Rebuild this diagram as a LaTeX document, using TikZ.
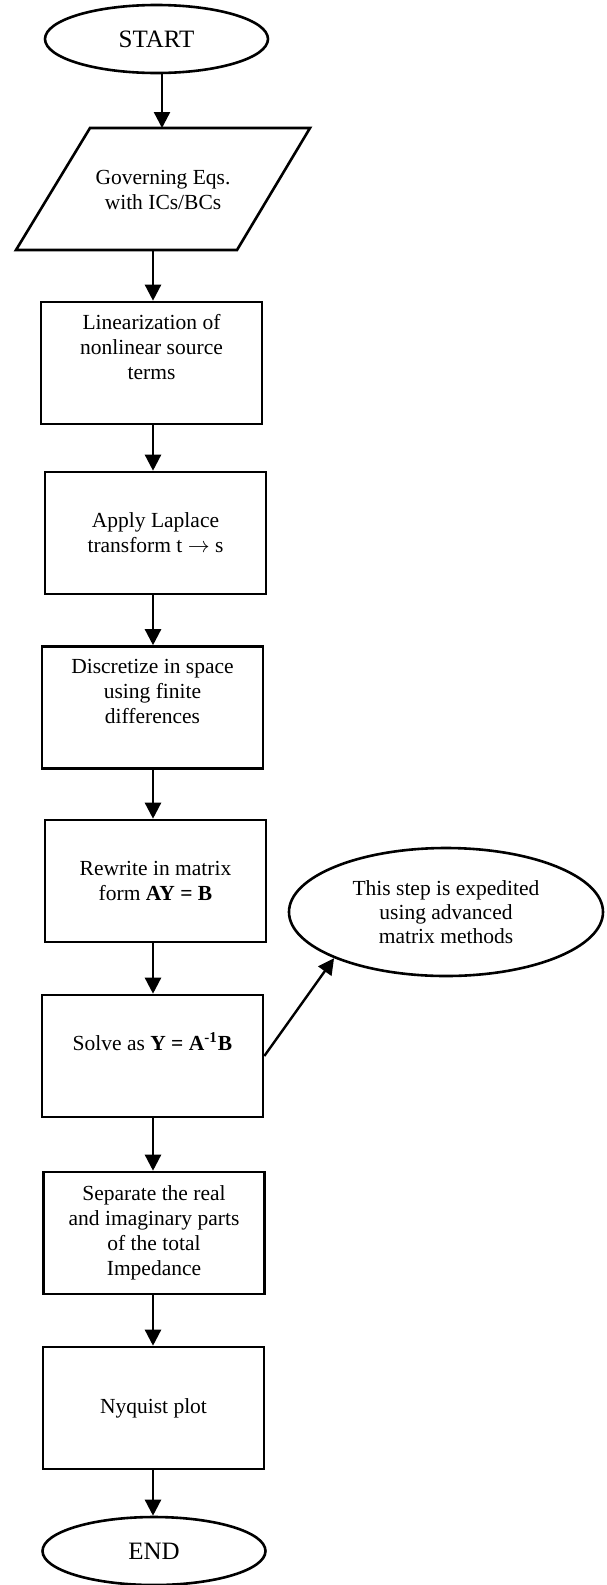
\documentclass[tikz,border=0pt]{standalone}
\usepackage{fontspec}
\setmainfont{Liberation Serif}
\usetikzlibrary{shapes.geometric,arrows.meta}
\begin{document}
\begin{tikzpicture}[x=0.5pt,y=-0.5pt,
  every node/.style={font=\fontsize{10.75}{12.5}\selectfont},
  box/.style={draw,line width=1.3pt,rectangle,minimum width=110.5pt,minimum height=61pt,inner sep=0pt,align=center},
  term/.style={draw,line width=1.3pt,ellipse,minimum width=111.5pt,minimum height=34pt,inner sep=0pt,font=\fontsize{12.5}{15}\selectfont},
  note/.style={draw,line width=1.3pt,ellipse,minimum width=157pt,minimum height=64pt,inner sep=0pt,align=center,font=\fontsize{10.75}{12}\selectfont},
  para/.style={line width=1.3pt,line join=miter},
  arr/.style={line width=1.2pt,-{Triangle[length=8pt,width=8pt]}}]
\useasboundingbox (0,0) rectangle (606,1585);
\node[term] (start) at (156.5,39) {START};
\coordinate (gtop) at (162,128);
\coordinate (gbot) at (153,250);
\draw[para] (16,250) -- (237,250) -- (310,128) -- (90,128) -- cycle;
\node[align=center] (gov) at (163,189.5) {Governing Eqs.\\with ICs/BCs};
\node[box] (lin) at (151.5,363) {Linearization of\\nonlinear source\\terms\\\strut};
\node[box] (lap) at (155.5,533) {Apply Laplace\\transform t $\rightarrow$ s};
\node[box] (dis) at (152.5,707.5) {Discretize in space\\using finite\\differences\\\strut};
\node[box] (rew) at (155.5,881) {Rewrite in matrix\\form \textbf{AY = B}};
\node[box] (sol) at (152.5,1056) {Solve as \textbf{Y = A\textsuperscript{-1}B}\\[-1.5pt]\strut};
\node[box] (sep) at (154,1233) {Separate the real\\and imaginary parts\\of the total\\Impedance};
\node[box] (nyq) at (153.5,1408) {Nyquist plot};
\node[term] (finish) at (154,1551) {END};
\node[note] (expd) at (446,912) {This step is expedited\\using advanced\\matrix methods};
\coordinate (ax) at (153,0);
\draw[arr] (start.south -| gtop) -- (gtop);
\draw[arr] (gbot) -- (lin.north -| gbot);
\draw[arr] (lin.south -| ax) -- (lap.north -| ax);
\draw[arr] (lap.south -| ax) -- (dis.north -| ax);
\draw[arr] (dis.south -| ax) -- (rew.north -| ax);
\draw[arr] (rew.south -| ax) -- (sol.north -| ax);
\draw[arr] (sol.south -| ax) -- (sep.north -| ax);
\draw[arr] (sep.south -| ax) -- (nyq.north -| ax);
\draw[arr] (nyq.south -| ax) -- (finish.north -| ax);
\draw[arr] (sol.east) -- (expd.south west);
\end{tikzpicture}
\end{document}
